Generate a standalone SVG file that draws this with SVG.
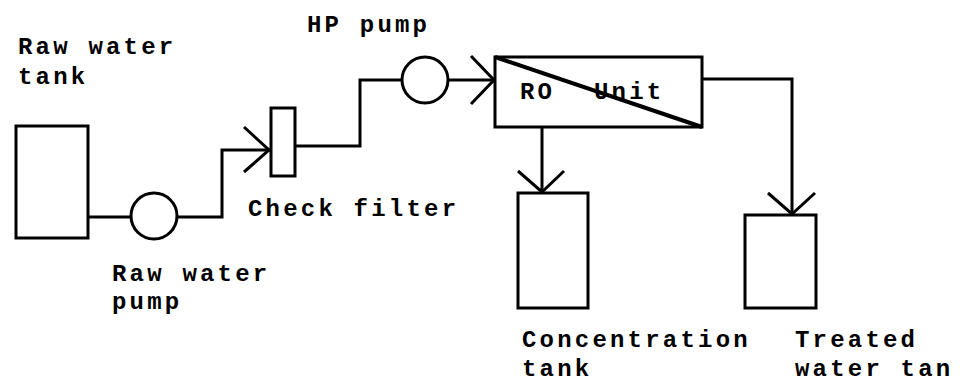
<svg xmlns="http://www.w3.org/2000/svg" width="960" height="384" viewBox="0 0 960 384">
<style>
.s{fill:none;stroke:#000;stroke-width:3;stroke-linejoin:miter}
.t{font-family:"Liberation Mono","DejaVu Sans Mono",monospace;font-weight:bold;font-size:24px;letter-spacing:3.2px;fill:#000}
</style>
<rect width="960" height="384" fill="#fff"/>
<g id="raw-water-tank">
<rect class="s" x="16" y="126" width="72" height="112"/>
<text class="t" x="18" y="54">Raw water</text>
<text class="t" x="18" y="84">tank</text>
</g>
<g id="raw-water-pump">
<circle class="s" cx="154" cy="216" r="23"/>
<text class="t" x="112" y="281">Raw water</text>
<text class="t" x="112" y="309">pump</text>
</g>
<g id="check-filter">
<rect class="s" x="271" y="108" width="24" height="68"/>
<text class="t" x="248" y="216">Check filter</text>
</g>
<g id="hp-pump">
<circle class="s" cx="425" cy="80" r="23"/>
<text class="t" x="307" y="32">HP pump</text>
</g>
<g id="ro-unit">
<rect class="s" x="495" y="57" width="207" height="70"/>
<line x1="495" y1="57" x2="702" y2="127" stroke="#000" stroke-width="4"/>
<text class="t" x="520" y="99">RO</text>
<text class="t" x="594" y="99">Unit</text>
</g>
<g id="concentration-tank">
<rect class="s" x="518" y="193" width="70" height="115"/>
<text class="t" x="522" y="347">Concentration</text>
<text class="t" x="522" y="376">tank</text>
</g>
<g id="treated-water-tank">
<rect class="s" x="745" y="215" width="71" height="93"/>
<text class="t" x="795" y="347">Treated</text>
<text class="t" x="795" y="376">water tan</text>
</g>
<g id="connectors">
<polyline class="s" points="88,217 131,217"/>
<polyline class="s" points="177,217 222,217 222,150 271,150"/>
<polyline class="s" points="244,127 269,150 244,172"/>
<polyline class="s" points="295,146 360,146 360,80 402,80"/>
<polyline class="s" points="448,80 495,80"/>
<polyline class="s" points="471,56 494,80 471,104"/>
<polyline class="s" points="542,127 542,193"/>
<polyline class="s" points="518,171 542,192 564,171"/>
<polyline class="s" points="702,79 792,79 792,215"/>
<polyline class="s" points="768,193 792,214 815,193"/>
</g>
</svg>
